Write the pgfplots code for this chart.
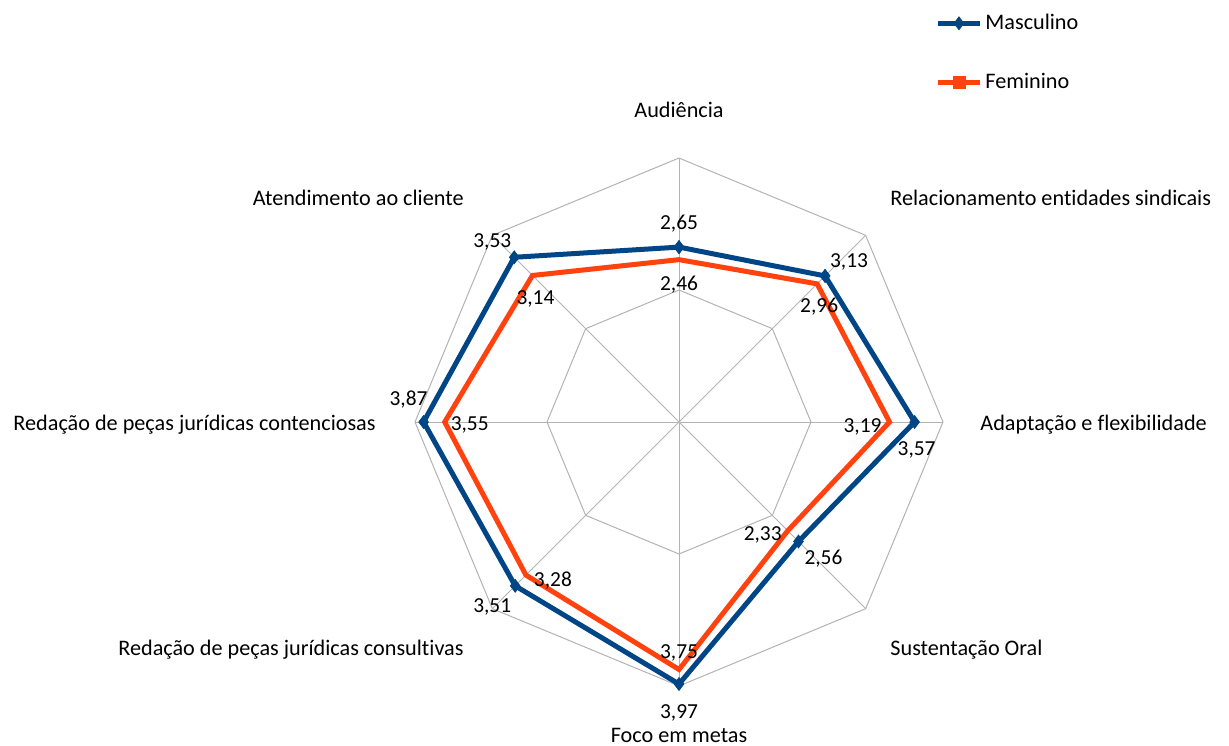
\documentclass[border=0pt]{standalone}
\usepackage{fontspec}
\setmainfont[Ligatures={NoCommon}]{Carlito}
\usepackage{pgfplots}
\pgfplotsset{compat=1.18}
\usepgfplotslibrary{polar}
\definecolor{masc}{HTML}{004586}
\definecolor{fem}{HTML}{FF420E}
\definecolor{gridc}{HTML}{B3B3B3}
\newcommand{\catfont}{\fontsize{11.1}{13}\selectfont}
\newcommand{\datfont}{\fontsize{10.7}{12.5}\selectfont}
\begin{document}
\begin{tikzpicture}[font=\catfont]
\begin{polaraxis}[
  hide axis, scale only axis, width=264pt, height=264pt,
  xmin=0, xmax=360, ymin=0, ymax=4,
  clip=false,
  legend style={at={(axis description cs:0.985,1.279)}, anchor=north west,
    draw=none, fill=none, inner sep=0pt, row sep=17.2pt,
    cells={anchor=west}, nodes={inner sep=1.5pt},
    font=\catfont},
  legend image code/.code={\draw[mark repeat=2,mark phase=2,#1] plot coordinates {(0pt,0pt)(10.5pt,0pt)(21pt,0pt)};},
  every node/.append style={yshift=-1pt},
]
\coordinate (c) at (axis cs:0,0);
% grid
\addplot[gridc, line width=0.5pt, forget plot] coordinates {(90,4)(45,4)(0,4)(315,4)(270,4)(225,4)(180,4)(135,4)(90,4)};
\addplot[gridc, line width=0.5pt, forget plot] coordinates {(90,2)(45,2)(0,2)(315,2)(270,2)(225,2)(180,2)(135,2)(90,2)};
\addplot[gridc, line width=0.5pt, forget plot] coordinates {(90,0)(90,4)};
\addplot[gridc, line width=0.5pt, forget plot] coordinates {(45,0)(45,4)};
\addplot[gridc, line width=0.5pt, forget plot] coordinates {(0,0)(0,4)};
\addplot[gridc, line width=0.5pt, forget plot] coordinates {(315,0)(315,4)};
\addplot[gridc, line width=0.5pt, forget plot] coordinates {(270,0)(270,4)};
\addplot[gridc, line width=0.5pt, forget plot] coordinates {(225,0)(225,4)};
\addplot[gridc, line width=0.5pt, forget plot] coordinates {(180,0)(180,4)};
\addplot[gridc, line width=0.5pt, forget plot] coordinates {(135,0)(135,4)};
% Feminino
\addplot[fem, line width=2.5pt, line join=miter, no marks, forget plot] coordinates {
(90,2.46)(45,2.96)(0,3.19)(315,2.33)(270,3.75)(225,3.28)(180,3.55)(135,3.14)(90,2.46)(45,2.96)};
% Masculino
\addplot[masc, line width=2.5pt, line join=miter, mark=diamond*, mark size=3.2pt,
  mark options={solid, line width=0.4pt, fill=masc}, forget plot] coordinates {
(90,2.65)(45,3.13)(0,3.57)(315,2.56)(270,3.97)(225,3.51)(180,3.87)(135,3.53)(90,2.65)(45,3.13)};
\addlegendimage{masc, line width=2.5pt, mark=diamond*, mark size=3.2pt, mark options={solid, line width=0.4pt, fill=masc}}
\addlegendentry{Masculino}
\addlegendimage{fem, line width=2.5pt, mark=square*, mark size=3pt, mark options={solid, line width=0.4pt, fill=fem}}
\addlegendentry{Feminino}
% data labels Masculino
\node[inner sep=0pt, font=\datfont, xshift=0pt, yshift=11.5pt] at (axis cs:90,2.65) {2,65};
\node[inner sep=0pt, font=\datfont, xshift=12pt, yshift=7pt] at (axis cs:45,3.13) {3,13};
\node[inner sep=0pt, font=\datfont, xshift=1pt, yshift=-14pt] at (axis cs:0,3.57) {3,57};
\node[inner sep=0pt, font=\datfont, xshift=12.5pt, yshift=-8.5pt] at (axis cs:315,2.56) {2,56};
\node[inner sep=0pt, font=\datfont, xshift=0pt, yshift=-14.5pt] at (axis cs:270,3.97) {3,97};
\node[inner sep=0pt, font=\datfont, xshift=-11.5pt, yshift=-10.5pt] at (axis cs:225,3.51) {3,51};
\node[inner sep=0pt, font=\datfont, xshift=-7.5pt, yshift=11pt] at (axis cs:180,3.87) {3,87};
\node[inner sep=0pt, font=\datfont, xshift=-11pt, yshift=7.5pt] at (axis cs:135,3.53) {3,53};
% data labels Feminino
\node[inner sep=0pt, font=\datfont, xshift=0pt, yshift=-12.5pt] at (axis cs:90,2.46) {2,46};
\node[inner sep=0pt, font=\datfont, xshift=1pt, yshift=-11.5pt] at (axis cs:45,2.96) {2,96};
\node[inner sep=0pt, font=\datfont, xshift=-13.5pt, yshift=-2.5pt] at (axis cs:0,3.19) {3,19};
\node[inner sep=0pt, font=\datfont, xshift=-12.5pt, yshift=-2pt] at (axis cs:315,2.33) {2,33};
\node[inner sep=0pt, font=\datfont, xshift=0pt, yshift=8.5pt] at (axis cs:270,3.75) {3,75};
\node[inner sep=0pt, font=\datfont, xshift=13.5pt, yshift=-2.5pt] at (axis cs:225,3.28) {3,28};
\node[inner sep=0pt, font=\datfont, xshift=12.5pt, yshift=-1.5pt] at (axis cs:180,3.55) {3,55};
\node[inner sep=0pt, font=\datfont, xshift=1.5pt, yshift=-11.5pt] at (axis cs:135,3.14) {3,14};
\end{polaraxis}
% category labels
\node[inner sep=0pt, anchor=mid] at ([shift={(0pt,154.5pt)}]c) {Audiência};
\node[inner sep=0pt, anchor=mid west] at ([shift={(105.5pt,110.5pt)}]c) {Relacionamento entidades sindicais};
\node[inner sep=0pt, anchor=mid west] at ([shift={(150.5pt,-2pt)}]c) {Adaptação e flexibilidade};
\node[inner sep=0pt, anchor=mid west] at ([shift={(105.5pt,-114.5pt)}]c) {Sustentação Oral};
\node[inner sep=0pt, anchor=mid] at ([shift={(0pt,-157.8pt)}]c) {Foco em metas};
\node[inner sep=0pt, anchor=mid east] at ([shift={(-107.5pt,-114.5pt)}]c) {Redação de peças jurídicas consultivas};
\node[inner sep=0pt, anchor=mid east] at ([shift={(-151.5pt,-2pt)}]c) {Redação de peças jurídicas contenciosas};
\node[inner sep=0pt, anchor=mid east] at ([shift={(-107.5pt,110.5pt)}]c) {Atendimento ao cliente};
\pgfresetboundingbox
\path[use as bounding box] (c) ++(-339.5pt,-161.5pt) rectangle ++(614.5pt,372.5pt);
\end{tikzpicture}
\end{document}
